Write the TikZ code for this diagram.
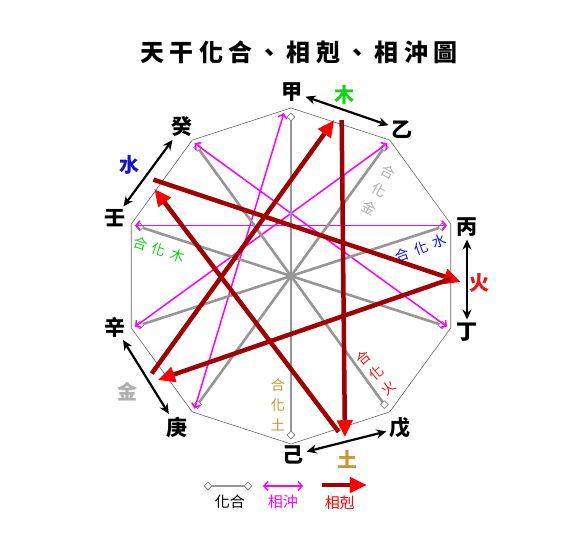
\documentclass[tikz,border=0pt]{standalone}
\usepackage{fontspec}
\newfontfamily\cjk{Noto Sans CJK TC}
\usetikzlibrary{calc}
\usetikzlibrary{arrows.meta}
\usetikzlibrary{shapes.geometric}
\definecolor{kered}{RGB}{160,0,0}
\definecolor{hegray}{RGB}{150,150,150}
\definecolor{chongpink}{RGB}{255,0,255}
\definecolor{mugreen}{RGB}{20,210,20}
\definecolor{tugold}{RGB}{200,150,50}
\definecolor{jingray}{RGB}{175,175,175}
\definecolor{shuiblue}{RGB}{20,20,200}
\definecolor{huored}{RGB}{235,20,20}
\tikzset{
 stem/.style={font=\cjk\bfseries\fontsize{21}{21}\selectfont, inner sep=1pt},
 elem/.style={font=\cjk\bfseries\fontsize{20}{20}\selectfont},
 hua/.style={font=\cjk\fontsize{14}{20}\selectfont\addfontfeature{LetterSpace=40}, align=center, inner sep=0pt},
 legend/.style={font=\cjk\fontsize{15}{15}\selectfont},
 diam/.style={diamond, draw=gray, fill=white, line width=.7pt, inner sep=0pt, minimum size=8pt},
 heline/.style={draw=hegray, line width=2.6pt},
 chong/.style={chongpink, line width=1.5pt, {Straight Barb[length=4pt,width=9pt]}-{Straight Barb[length=4pt,width=9pt]}},
 ke/.style={draw=kered, line width=4.5pt, -{Triangle[length=17pt,width=15pt,color=red]}},
 pair/.style={black, line width=2.2pt, shorten <=2pt, shorten >=2pt, {Stealth[length=10pt,width=9pt]}-{Stealth[length=10pt,width=9pt]}}
}

\begin{document}
\begin{tikzpicture}[x=1pt, y=1pt]
\useasboundingbox (-291,-275) rectangle (291,276);
\fill[white] (-291,-275) rectangle (291,276);
\node[font=\cjk\bfseries\fontsize{24}{24}\selectfont\addfontfeature{LetterSpace=22}] (title) at (8,224) {天干化合、相剋、相沖圖};

% decagon
\draw[gray!80!black, line width=.6pt] (90:168) \foreach \i in {1,...,9} { -- (90-36*\i:168)} -- cycle;

\foreach \i in {0,...,9} {
 \node[diam] (h\i) at (90-36*\i:159) {};
 \coordinate (m\i) at (90-36*\i:164);
}
\coordinate (m0) at (92.5:163);

% xiang chong
\foreach \a/\b in {0/6,1/7,2/8,3/9} \draw[chong] (m\a) -- (m\b);
% hua he
\foreach \a/\b in {0/5,1/6,2/7,3/8,4/9} \draw[heline] (h\a) -- (h\b);

\foreach \n/\t/\p in {s0/甲/{1,184}, s1/乙/{111,146}, s2/丙/{176,49}, s3/丁/{176,-56}, s4/戊/{109,-152},
  s5/己/{2,-179}, s6/庚/{-114,-151}, s7/辛/{-176,-51}, s8/壬/{-176,58}, s9/癸/{-109,149}}
 \node[stem] (\n) at (\p) {\t};
\foreach \a/\b in {s0/s1, s2/s3, s4/s5, s6/s7, s8/s9} \draw[pair] (\a) -- (\b);

\node[elem, text=mugreen] (mu) at (54,181) {木};
\node[elem, text=huored] (huo) at (189,-7) {火};
\node[elem, text=tugold] (tu) at (57,-184) {土};
\node[elem, text=jingray] (jin) at (-163,-116) {金};
\node[elem, text=shuiblue] (shui) at (-161,111) {水};

% xiang ke
\coordinate (o-mu) at (72:164);    \coordinate (i-mu) at (74.5:162);
\coordinate (o-huo) at (-1:160);   \coordinate (i-huo) at (-2:170);
\coordinate (o-tu) at (-73:163);   \coordinate (i-tu) at (-71.5:170);
\coordinate (o-jin) at (-145:170); \coordinate (i-jin) at (-142:169);
\coordinate (o-shui) at (145:168); \coordinate (i-shui) at (147.5:162);
\foreach \a/\b in {mu/tu, tu/shui, shui/huo, huo/jin, jin/mu} \draw[ke] (o-\a) -- (i-\b);

\node[hua, text=tugold] (hetu) at (-13,-129) {合\\化\\土};
\node[hua, text=huored, rotate=40] (hehuo) at (85,-97) {合\\化\\火};
\node[hua, text=jingray, rotate=-28] (hejin) at (88,86) {合\\化\\金};
\node[hua, text=shuiblue, rotate=20] (heshui) at (130,28) {合化水};
\node[hua, text=mugreen, rotate=-18] (hemu) at (-132,26) {合化木};

% legend
\node[diam] (lh1) at (-83,-210) {};
\node[diam] (lh2) at (-43,-210) {};
\draw[heline] (lh1) -- (lh2);
\node[legend] (lhe) at (-61,-226) {化合};
\coordinate (lc1) at (-28,-210);
\coordinate (lc2) at (12,-210);
\draw[chong] (lc1) -- (lc2);
\node[legend, text=chongpink] (lchong) at (-8,-226) {相沖};
\coordinate (lk1) at (31,-209);
\coordinate (lk2) at (76,-209);
\draw[ke] (lk1) -- (lk2);
\node[legend, text=red] (lke) at (49,-227) {相剋};
\end{tikzpicture}
\end{document}
